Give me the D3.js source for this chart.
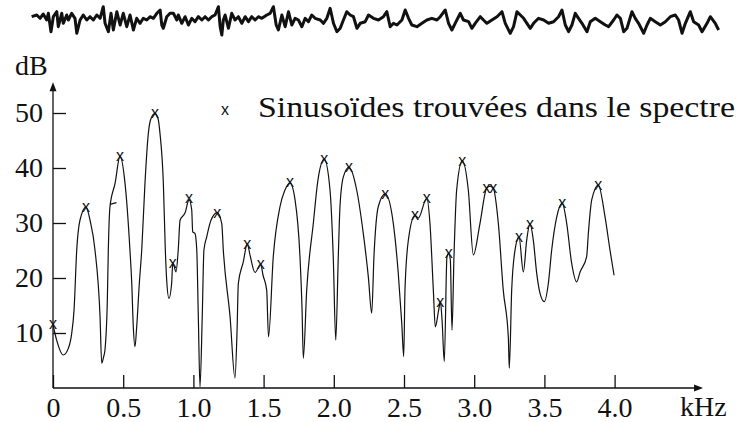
<!DOCTYPE html>
<html>
<head>
<meta charset="utf-8">
<script src="https://cdn.jsdelivr.net/npm/d3@7"></script>
<style>
body { margin: 0; background: #fff; }
svg text.lbl { font-family: 'Liberation Serif', Tinos, 'Times New Roman', FreeSerif, serif !important; }
svg text.mark { font-family: 'Liberation Sans', Arimo, Arial, sans-serif !important; }
</style>
</head>
<body>
<div id="chart"></div>
<script>
// time signal above the spectrum: [ms, amplitude]
const waveform = [
  [0.12,3.3],[0.49,5],[0.73,1.7],[0.96,6],[1.21,0],[1.33,6.7],[1.52,-11.7],[1.69,3.3],[1.94,8.3],[2.05,-6.7],
  [2.30,6.7],[2.41,-3.3],[2.66,5],[2.78,0],[3.02,6.7],[3.26,1.7],[3.39,-13.3],[3.63,0],[3.86,5],[4.11,0],
  [4.35,3.3],[4.59,0],[4.84,5],[5.08,1.7],[5.31,13.3],[5.44,-3.3],[5.68,-11.7],[5.87,6.7],[6.04,-10],[6.29,8.3],
  [6.53,-5],[6.76,6.7],[7.01,-6.7],[7.25,5],[7.49,-10],[7.73,1.7],[7.98,-3.3],[8.21,1.7],[8.46,0],[8.70,3.3],
  [8.94,1.7],[9.19,6.7],[9.43,10],[9.55,-5],[9.66,-8.3],[9.91,3.3],[10.15,6.7],[10.39,6.7],[10.64,0],[10.75,5],
  [11.00,-3.3],[11.24,3.3],[11.48,-5],[11.72,1.7],[11.96,-1.7],[12.20,3.3],[12.45,0],[12.69,3.3],[12.93,0],[13.17,3.3],
  [13.41,5],[13.65,13.3],[13.78,-6.7],[13.90,-15],[14.01,0],[14.14,5],[14.38,-8.3],[14.62,6.7],[14.86,0],[15.10,3.3],
  [15.35,-3.3],[15.59,3.3],[15.83,-1.7],[16.07,3.3],[16.31,0],[16.55,3.3],[16.80,1.7],[17.16,5],[17.40,6.7],[17.64,13.3],
  [17.84,-5],[18.00,-10],[18.25,5],[18.49,-6.7],[18.73,8.3],[18.97,-5],[19.21,1.7],[19.45,0],[19.70,-6.7],[19.94,1.7],
  [20.18,-1.7],[20.42,5],[20.66,1.7],[21.03,0],[21.26,-3.3],[21.51,1.7],[21.75,11.7],[21.99,-3.3],[22.24,-11.7],[22.48,-8.3],
  [22.71,0],[22.96,8.3],[23.20,5],[23.44,3.3],[23.69,-8.3],[23.93,-3.3],[24.29,-1.7],[24.53,5],[24.89,1.7],[25.25,0],
  [25.61,3.3],[25.86,8.3],[26.10,-6.7],[26.34,-3.3],[26.59,-5],[26.95,0],[27.19,10],[27.43,1.7],[27.67,-5],[28.04,-6.7],
  [28.40,-3.3],[28.76,0],[29.12,1.7],[29.49,0],[29.73,3.3],[30.09,10],[30.33,-3.3],[30.57,-10],[30.81,-3.3],[31.18,6.7],
  [31.41,0],[31.78,-1.7],[32.02,-8.3],[32.26,-3.3],[32.63,3.3],[32.86,0],[33.11,-3.3],[33.47,0],[33.84,3.3],[34.20,8.3],
  [34.44,-3.3],[34.80,-13.3],[35.04,-6.7],[35.29,8.3],[35.53,5],[35.77,1.7],[36.01,-3.3],[36.25,-8.3],[36.49,-3.3],[36.85,1.7],
  [37.22,0],[37.58,-3.3],[37.94,-1.7],[38.30,3.3],[38.55,10],[38.79,-5],[39.03,-11.7],[39.27,-5],[39.51,6.7],[39.75,1.7],
  [40.00,-3.3],[40.36,-11.7],[40.60,-1.7],[40.96,1.7],[41.33,-1.7],[41.69,-5],[41.93,-6.7],[42.29,0],[42.53,5],[42.78,1.7],
  [43.02,-11.7],[43.26,-8.3],[43.62,8.3],[43.86,1.7],[44.10,-3.3],[44.47,-13.3],[44.71,-5],[44.95,1.7],[45.31,-1.7],[45.68,-5],
  [46.04,-1.7],[46.40,3.3],[46.76,5],[47.00,0],[47.25,-13.3],[47.49,-3.3],[47.85,8.3],[48.09,-1.7],[48.45,-5],[48.70,-11.7],
  [49.06,-3.3],[49.30,3.3],[49.66,-3.3],[49.90,-10]
];

// spectrum envelope: [kHz, dB]
const spectrum = [
  [0,11.5],[0.026,8.7],[0.073,6.0],[0.109,7.2],[0.133,9.9],[0.150,14.2],[0.169,25.1],[0.192,30.5],[0.235,32.9],[0.264,30.5],
  [0.299,25.1],[0.335,13.0],[0.347,4.5],[0.360,5.6],[0.370,6.9],[0.387,16],[0.394,25.1],[0.406,33.0],[0.442,37.2],[0.477,42.1],
  [0.513,37.2],[0.548,25.1],[0.561,19],[0.572,11.1],[0.584,7.5],[0.596,11.1],[0.615,19.1],[0.632,25.1],[0.655,37.2],[0.679,46.3],
  [0.698,49],[0.726,49.9],[0.748,49],[0.762,46.3],[0.786,37.2],[0.800,25.1],[0.810,19.5],[0.826,16.3],[0.845,19.0],[0.853,22.7],
  [0.862,22.2],[0.876,21.1],[0.892,25.1],[0.905,30.5],[0.940,31.8],[0.969,34.2],[0.988,32.4],[0.995,28.4],[1.011,28.1],[1.024,25.1],
  [1.035,13.0],[1.047,0.2],[1.063,13.0],[1.075,25.1],[1.095,27.5],[1.125,30.5],[1.170,31.9],[1.202,29.9],[1.213,25.1],[1.261,13.0],
  [1.296,1.8],[1.311,10.5],[1.320,19.0],[1.355,22.9],[1.384,26.2],[1.403,24.2],[1.439,21.0],[1.479,22.5],[1.496,20.5],[1.522,17.8],
  [1.535,9.3],[1.569,23.9],[1.617,33.0],[1.652,36],[1.688,37.3],[1.724,34.2],[1.759,23.9],[1.774,14.2],[1.783,5.4],[1.807,17.8],
  [1.854,29.9],[1.887,37.8],[1.932,41.6],[1.973,36.0],[1.996,23.9],[2.014,8.7],[2.032,23.9],[2.044,33.0],[2.068,38.4],[2.108,40.1],
  [2.163,36.0],[2.210,28.1],[2.246,20.2],[2.270,13.6],[2.286,23.9],[2.317,33.0],[2.367,35.3],[2.424,29.9],[2.459,20.9],[2.484,11.8],
  [2.498,5.7],[2.507,17.8],[2.531,26.9],[2.578,31.4],[2.602,30.9],[2.662,34.5],[2.685,29.9],[2.709,17.8],[2.723,11.1],[2.747,14.2],
  [2.759,15.7],[2.771,12.4],[2.787,4.8],[2.806,23.9],[2.818,24.5],[2.830,23.3],[2.842,10.5],[2.856,23.9],[2.875,36.0],[2.915,41.3],
  [2.958,36.0],[2.994,24.2],[3.041,29.9],[3.088,36.3],[3.112,36.7],[3.136,36.3],[3.172,29.9],[3.207,17.8],[3.243,9.3],[3.250,3.6],
  [3.267,17.8],[3.291,25.1],[3.319,27.5],[3.350,21.1],[3.374,26.9],[3.397,29.9],[3.421,26.9],[3.445,20.9],[3.469,17.2],[3.499,15.7],
  [3.528,19.0],[3.552,25.1],[3.588,31.1],[3.627,33.6],[3.659,29.9],[3.694,22.7],[3.730,19.3],[3.754,21.1],[3.801,23.9],[3.813,28.1],
  [3.837,34.2],[3.884,36.9],[3.932,31.1],[3.967,25.1],[3.996,20.5]
];

// small stray dash on the rising side of the 0.48 kHz lobe
const spur = [[0.406, 33.4], [0.452, 33.7]];

// detected sinusoids: [kHz, dB]
const sinusoids = [
  [0,11.6],[0.235,32.9],[0.477,42.1],[0.726,50],[0.853,22.8],[0.969,34.5],[1.170,31.9],[1.384,26.2],
  [1.479,22.5],[1.688,37.4],[1.932,41.6],[2.108,40.1],[2.367,35.3],[2.578,31.5],[2.662,34.5],[2.759,15.7],
  [2.818,24.6],[2.915,41.3],[3.088,36.3],[3.136,36.3],[3.319,27.5],[3.397,29.9],[3.627,33.6],[3.884,36.9]
];

const xTicks = [0, 0.5, 1.0, 1.5, 2.0, 2.5, 3.0, 3.5, 4.0];
const yTicks = [10, 20, 30, 40, 50];
const legendLabel = 'Sinusoïdes trouvées dans le spectre';

let width = 737, height = 422;

let svg = d3.select('#chart')
  .append('svg')
    .attr('width', width)
    .attr('height', height);

// waveform
let tx = d3.scaleLinear().domain([0, 50]).range([30, 720]);
let ty = d3.scaleLinear().domain([-15, 15]).range([35, 5]);

svg.append('path')
  .datum(waveform)
  .attr('fill', 'none')
  .attr('stroke', '#111')
  .attr('stroke-width', 3)
  .attr('stroke-linejoin', 'round')
  .attr('d', d3.line().x(d => tx(d[0])).y(d => ty(d[1])));

// spectrum scales
let x = d3.scaleLinear().domain([0, 4]).range([53, 614.6]);
let y = d3.scaleLinear().domain([0, 50]).range([388, 113]);

// axis lines, arrow heads as small triangles
let xEnd = 4.63, yEnd = 55.6;

svg.append('line')
  .attr('x1', x(0)).attr('y1', y(0))
  .attr('x2', x(xEnd) - 6).attr('y2', y(0))
  .attr('stroke', '#111').attr('stroke-width', 1.3);

svg.append('path')
  .attr('d', 'M' + x(xEnd) + ',' + y(0) + 'l-9,-3.5l0,7z')
  .attr('fill', '#111');

svg.append('line')
  .attr('x1', x(0)).attr('y1', y(0))
  .attr('x2', x(0)).attr('y2', y(yEnd) + 6)
  .attr('stroke', '#111').attr('stroke-width', 1.3);

svg.append('path')
  .attr('d', 'M' + x(0) + ',' + y(yEnd) + 'l-3.5,9l7,0z')
  .attr('fill', '#111');

let xAxis = svg.append('g')
  .attr('transform', 'translate(0,' + y(0) + ')')
  .call(d3.axisBottom(x).tickValues(xTicks).tickSize(-13).tickSizeOuter(0).tickPadding(9)
    .tickFormat(d => d === 0 ? '0' : d.toFixed(1)));

let yAxis = svg.append('g')
  .attr('transform', 'translate(' + x(0) + ',0)')
  .call(d3.axisLeft(y).tickValues(yTicks).tickSize(-13).tickSizeOuter(0).tickPadding(10));

[xAxis, yAxis].forEach(g => {
  g.attr('font-family', null).attr('font-size', 28);
  g.select('.domain').remove();
  g.selectAll('line').attr('stroke', '#111').attr('stroke-width', 1.3);
  g.selectAll('text')
    .attr('class', 'lbl')
    .attr('fill', '#111');
});

// axis titles
svg.append('text')
  .attr('class', 'lbl')
  .attr('x', 15).attr('y', 75)
  .attr('font-size', 28)
  .attr('fill', '#111')
  .text('dB');

svg.append('text')
  .attr('class', 'lbl')
  .attr('x', 680).attr('y', 416)
  .attr('font-size', 28)
  .attr('fill', '#111')
  .text('kHz');

// spectrum curve
let line = d3.line()
  .x(d => x(d[0]))
  .y(d => y(d[1]))
  .curve(d3.curveMonotoneX);

svg.append('path')
  .datum(spectrum)
  .attr('fill', 'none')
  .attr('stroke', '#111')
  .attr('stroke-width', 1.2)
  .attr('d', line);

svg.append('path')
  .datum(spur)
  .attr('fill', 'none')
  .attr('stroke', '#111')
  .attr('stroke-width', 1.2)
  .attr('d', d3.line().x(d => x(d[0])).y(d => y(d[1])));

// sinusoid markers
svg.selectAll('sin_marks')
  .data(sinusoids)
  .enter()
  .append('text')
    .attr('class', 'mark')
    .attr('x', d => x(d[0]))
    .attr('y', d => y(d[1]) + 5)
    .attr('text-anchor', 'middle')
    .attr('font-size', 16)
    .attr('fill', '#111')
    .text('x');

// legend
svg.append('text')
  .attr('class', 'mark')
  .attr('x', 225).attr('y', 115)
  .attr('text-anchor', 'middle')
  .attr('font-size', 16)
  .attr('fill', '#111')
  .text('x');

svg.append('text')
  .attr('class', 'lbl')
  .attr('x', 258).attr('y', 117)
  .attr('font-size', 29)
  .attr('fill', '#111')
  .attr('textLength', 477)
  .attr('lengthAdjust', 'spacingAndGlyphs')
  .text(legendLabel);
</script>
</body>
</html>
